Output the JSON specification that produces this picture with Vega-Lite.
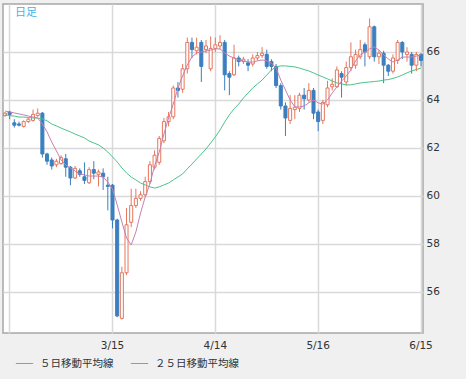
{
 "$schema": "https://vega.github.io/schema/vega-lite/v6.json",
 "width": 420, "height": 329,
 "autosize": {"type": "none"},
 "padding": {"left": 3, "top": 4, "right": 43, "bottom": 46},
 "background": "#f0f0f0",
 "config": {"view": {"fill": "white", "stroke": "#a6a6a6", "strokeWidth": 1.5}, "font": "DejaVu Sans"},
 "title": {"text": "日足", "anchor": "start", "frame": "group", "orient": "top", "offset": -14, "dx": 12, "fontSize": 11, "fontWeight": "normal", "color": "#3fb2ea", "font": "Noto Sans CJK JP"},
 "data": {"values": [
  {"d":"2/10","o":63.35,"h":63.5,"l":63.3,"c":63.45,"m5":63.54,"m25":63.38},
  {"d":"2/11","o":63.5,"h":63.55,"l":63.2,"c":63.4,"m5":63.5,"m25":63.35},
  {"d":"2/14","o":63.05,"h":63.2,"l":62.85,"c":62.95,"m5":63.46,"m25":63.33},
  {"d":"2/15","o":63.0,"h":63.1,"l":62.9,"c":62.95,"m5":63.42,"m25":63.29},
  {"d":"2/16","o":62.9,"h":63.15,"l":62.85,"c":63.1,"m5":63.38,"m25":63.29},
  {"d":"2/17","o":63.1,"h":63.25,"l":63.05,"c":63.2,"m5":63.33,"m25":63.27},
  {"d":"2/18","o":63.15,"h":63.6,"l":63.1,"c":63.4,"m5":63.29,"m25":63.25},
  {"d":"2/21","o":63.35,"h":63.65,"l":63.3,"c":63.45,"m5":63.25,"m25":63.25},
  {"d":"2/22","o":63.45,"h":63.5,"l":61.6,"c":61.75,"m5":63.0,"m25":63.21},
  {"d":"2/23","o":61.75,"h":61.8,"l":61.3,"c":61.45,"m5":62.67,"m25":63.13},
  {"d":"2/24","o":61.5,"h":61.6,"l":61.1,"c":61.25,"m5":62.25,"m25":63.0},
  {"d":"2/25","o":61.3,"h":61.55,"l":61.2,"c":61.45,"m5":61.88,"m25":62.92},
  {"d":"2/28","o":61.35,"h":61.7,"l":61.3,"c":61.6,"m5":61.5,"m25":62.83},
  {"d":"3/1","o":61.55,"h":61.75,"l":60.8,"c":61.2,"m5":61.29,"m25":62.75},
  {"d":"3/2","o":61.2,"h":61.25,"l":60.45,"c":60.75,"m5":61.17,"m25":62.67},
  {"d":"3/3","o":60.75,"h":61.25,"l":60.7,"c":61.15,"m5":61.04,"m25":62.58},
  {"d":"3/4","o":61.05,"h":61.15,"l":60.8,"c":60.9,"m5":60.92,"m25":62.5},
  {"d":"3/7","o":60.8,"h":61.4,"l":60.5,"c":60.65,"m5":60.88,"m25":62.42},
  {"d":"3/8","o":60.55,"h":61.2,"l":60.5,"c":61.1,"m5":60.83,"m25":62.29},
  {"d":"3/9","o":61.1,"h":61.45,"l":60.7,"c":60.95,"m5":60.83,"m25":62.21},
  {"d":"3/10","o":60.9,"h":61.1,"l":60.4,"c":61.0,"m5":60.83,"m25":62.13},
  {"d":"3/11","o":60.95,"h":61.15,"l":60.25,"c":60.8,"m5":60.79,"m25":62.0},
  {"d":"3/14","o":60.45,"h":60.8,"l":59.4,"c":60.4,"m5":60.58,"m25":61.83},
  {"d":"3/15","o":60.45,"h":60.5,"l":58.65,"c":59.0,"m5":60.29,"m25":61.63},
  {"d":"3/16","o":59.0,"h":59.05,"l":54.95,"c":55.0,"m5":59.63,"m25":61.42},
  {"d":"3/17","o":54.9,"h":57.05,"l":54.85,"c":56.8,"m5":58.92,"m25":61.17},
  {"d":"3/18","o":56.8,"h":59.5,"l":56.7,"c":58.8,"m5":58.25,"m25":60.96},
  {"d":"3/21","o":58.9,"h":60.3,"l":58.7,"c":59.6,"m5":57.96,"m25":60.79},
  {"d":"3/22","o":59.6,"h":60.3,"l":59.5,"c":59.9,"m5":58.5,"m25":60.67},
  {"d":"3/23","o":59.9,"h":60.2,"l":59.8,"c":60.05,"m5":59.29,"m25":60.54},
  {"d":"3/24","o":60.05,"h":60.8,"l":59.95,"c":60.6,"m5":59.96,"m25":60.46},
  {"d":"3/25","o":60.6,"h":61.45,"l":60.5,"c":61.3,"m5":60.5,"m25":60.38},
  {"d":"3/28","o":61.2,"h":61.9,"l":61.1,"c":61.7,"m5":61.25,"m25":60.33},
  {"d":"3/29","o":61.4,"h":62.5,"l":61.3,"c":62.4,"m5":61.83,"m25":60.38},
  {"d":"3/30","o":62.3,"h":63.25,"l":62.2,"c":63.1,"m5":62.58,"m25":60.46},
  {"d":"3/31","o":63.1,"h":63.5,"l":62.9,"c":63.3,"m5":63.25,"m25":60.54},
  {"d":"4/1","o":63.3,"h":64.6,"l":63.2,"c":64.5,"m5":63.83,"m25":60.67},
  {"d":"4/4","o":64.5,"h":64.75,"l":64.1,"c":64.4,"m5":64.5,"m25":60.79},
  {"d":"4/5","o":64.45,"h":65.5,"l":64.3,"c":65.3,"m5":65.0,"m25":60.92},
  {"d":"4/6","o":65.3,"h":66.6,"l":65.1,"c":66.4,"m5":65.46,"m25":61.13},
  {"d":"4/7","o":66.4,"h":66.6,"l":65.75,"c":66.1,"m5":65.79,"m25":61.33},
  {"d":"4/8","o":66.05,"h":66.6,"l":65.9,"c":66.2,"m5":65.96,"m25":61.54},
  {"d":"4/11","o":66.4,"h":66.5,"l":64.75,"c":65.4,"m5":66.0,"m25":61.75},
  {"d":"4/12","o":66.1,"h":66.5,"l":65.95,"c":66.25,"m5":66.04,"m25":61.96},
  {"d":"4/13","o":65.3,"h":66.65,"l":65.2,"c":66.15,"m5":66.08,"m25":62.21},
  {"d":"4/14","o":66.15,"h":66.6,"l":66.0,"c":66.3,"m5":66.13,"m25":62.46},
  {"d":"4/15","o":66.25,"h":66.7,"l":66.1,"c":66.4,"m5":66.13,"m25":62.75},
  {"d":"4/18","o":66.4,"h":66.5,"l":64.4,"c":65.05,"m5":65.96,"m25":63.08},
  {"d":"4/19","o":65.1,"h":65.2,"l":64.2,"c":64.95,"m5":65.83,"m25":63.38},
  {"d":"4/20","o":65.05,"h":66.3,"l":65.0,"c":65.75,"m5":65.75,"m25":63.63},
  {"d":"4/21","o":65.75,"h":65.85,"l":65.4,"c":65.6,"m5":65.67,"m25":63.83},
  {"d":"4/22","o":65.6,"h":65.8,"l":65.5,"c":65.7,"m5":65.63,"m25":64.08},
  {"d":"4/25","o":65.55,"h":65.7,"l":65.2,"c":65.45,"m5":65.58,"m25":64.29},
  {"d":"4/26","o":65.5,"h":65.9,"l":65.4,"c":65.75,"m5":65.58,"m25":64.5},
  {"d":"4/27","o":65.75,"h":66.0,"l":65.65,"c":65.85,"m5":65.63,"m25":64.67},
  {"d":"4/28","o":65.85,"h":66.2,"l":65.75,"c":65.95,"m5":65.67,"m25":64.83},
  {"d":"4/29","o":65.9,"h":66.1,"l":65.3,"c":65.4,"m5":65.63,"m25":65.04},
  {"d":"5/2","o":65.6,"h":65.7,"l":65.2,"c":65.4,"m5":65.54,"m25":65.25},
  {"d":"5/3","o":65.4,"h":65.5,"l":64.5,"c":64.6,"m5":65.33,"m25":65.38},
  {"d":"5/4","o":64.6,"h":64.7,"l":63.6,"c":63.75,"m5":64.83,"m25":65.42},
  {"d":"5/5","o":63.75,"h":63.9,"l":62.5,"c":63.25,"m5":64.42,"m25":65.42},
  {"d":"5/6","o":63.15,"h":64.2,"l":63.0,"c":63.65,"m5":64.0,"m25":65.4},
  {"d":"5/9","o":63.6,"h":64.2,"l":63.2,"c":63.7,"m5":63.71,"m25":65.38},
  {"d":"5/10","o":63.65,"h":64.3,"l":63.5,"c":64.2,"m5":63.71,"m25":65.33},
  {"d":"5/11","o":64.2,"h":64.5,"l":63.6,"c":64.05,"m5":63.75,"m25":65.27},
  {"d":"5/12","o":64.0,"h":64.7,"l":63.9,"c":64.4,"m5":63.88,"m25":65.21},
  {"d":"5/13","o":64.4,"h":64.5,"l":63.2,"c":63.45,"m5":64.0,"m25":65.13},
  {"d":"5/16","o":63.5,"h":63.6,"l":62.7,"c":63.1,"m5":63.88,"m25":65.04},
  {"d":"5/17","o":63.15,"h":64.0,"l":63.0,"c":63.9,"m5":63.83,"m25":64.96},
  {"d":"5/18","o":63.8,"h":64.8,"l":63.7,"c":64.5,"m5":64.0,"m25":64.88},
  {"d":"5/19","o":64.55,"h":64.9,"l":64.4,"c":64.65,"m5":64.29,"m25":64.79},
  {"d":"5/20","o":64.55,"h":65.4,"l":64.5,"c":65.25,"m5":64.54,"m25":64.71},
  {"d":"5/23","o":65.1,"h":65.2,"l":64.1,"c":64.95,"m5":64.79,"m25":64.67},
  {"d":"5/24","o":64.75,"h":65.6,"l":64.6,"c":65.35,"m5":65.0,"m25":64.63},
  {"d":"5/25","o":65.35,"h":66.4,"l":65.2,"c":65.8,"m5":65.25,"m25":64.63},
  {"d":"5/26","o":65.45,"h":66.1,"l":65.3,"c":65.9,"m5":65.63,"m25":64.67},
  {"d":"5/27","o":65.8,"h":66.5,"l":65.7,"c":66.1,"m5":65.88,"m25":64.71},
  {"d":"5/30","o":66.3,"h":66.4,"l":65.4,"c":66.0,"m5":66.0,"m25":64.73},
  {"d":"5/31","o":65.8,"h":67.4,"l":65.7,"c":67.05,"m5":66.13,"m25":64.75},
  {"d":"6/1","o":67.05,"h":67.1,"l":65.6,"c":65.8,"m5":66.21,"m25":64.77},
  {"d":"6/2","o":65.8,"h":66.1,"l":65.5,"c":65.95,"m5":66.08,"m25":64.79},
  {"d":"6/3","o":65.95,"h":66.05,"l":64.7,"c":65.45,"m5":65.88,"m25":64.83},
  {"d":"6/6","o":65.45,"h":65.5,"l":65.0,"c":65.2,"m5":65.71,"m25":64.85},
  {"d":"6/7","o":65.2,"h":65.9,"l":65.1,"c":65.75,"m5":65.58,"m25":64.9},
  {"d":"6/8","o":65.65,"h":66.5,"l":65.5,"c":66.4,"m5":65.67,"m25":64.96},
  {"d":"6/9","o":66.4,"h":66.45,"l":65.7,"c":66.0,"m5":65.79,"m25":65.04},
  {"d":"6/10","o":65.9,"h":66.2,"l":65.6,"c":66.0,"m5":65.79,"m25":65.13},
  {"d":"6/13","o":65.9,"h":66.0,"l":65.1,"c":65.45,"m5":65.79,"m25":65.21},
  {"d":"6/14","o":65.45,"h":66.0,"l":65.2,"c":65.9,"m5":65.83,"m25":65.27},
  {"d":"6/15","o":65.9,"h":65.95,"l":65.4,"c":65.65,"m5":65.88,"m25":65.33}
 ]},
 "encoding": {
  "x": {"field": "d", "type": "ordinal", "sort": null, "title": null,
   "scale": {"type": "band", "paddingInner": 0.35, "paddingOuter": 0.1},
   "axis": {"values": ["2/11","3/15","4/14","5/16","6/15"], "labelExpr": "datum.value == '2/11' ? '' : datum.value", "ticks": false, "domain": false, "grid": true, "gridColor": "#d9d9d9", "gridWidth": 1.5, "bandPosition": 0.5, "labelAngle": 0, "labelFontSize": 10.5, "labelColor": "#333333", "labelPadding": 7}}
 },
 "layer": [
  {"mark": {"type": "rule", "strokeWidth": 1},
   "encoding": {
    "y": {"field": "l", "type": "quantitative", "title": null, "scale": {"domain": [54.29, 68], "nice": false, "zero": false},
     "axis": {"orient": "right", "values": [56,58,60,62,64,66], "ticks": false, "domain": false, "gridColor": "#d9d9d9", "gridWidth": 1.5, "labelPadding": 3, "labelFontSize": 10.5, "labelColor": "#333333"}},
    "y2": {"field": "h"},
    "color": {"condition": {"test": "datum.c >= datum.o", "value": "#e5765c"}, "value": "#3b7fbf"}
   }},
  {"mark": {"type": "bar", "strokeWidth": 1},
   "encoding": {
    "y": {"field": "o", "type": "quantitative", "title": null},
    "y2": {"field": "c"},
    "fill": {"condition": {"test": "datum.c >= datum.o", "value": "#ffffff"}, "value": "#3b7fbf"},
    "stroke": {"condition": {"test": "datum.c >= datum.o", "value": "#e5765c"}, "value": "#3b7fbf"}
   }},
  {"mark": {"type": "line", "strokeWidth": 1},
   "encoding": {
    "y": {"field": "m25", "type": "quantitative", "title": null},
    "color": {"datum": "２５日移動平均線", "type": "nominal",
     "scale": {"domain": ["５日移動平均線", "２５日移動平均線"], "range": ["#c97fb0", "#4cc38c"]},
     "legend": {"orient": "none", "legendX": 12, "legendY": 350, "direction": "horizontal", "title": null, "symbolType": "stroke", "symbolStrokeWidth": 1, "symbolSize": 300, "labelFont": "Noto Sans CJK JP", "labelFontSize": 10.5, "labelColor": "#333333", "columnPadding": 14, "labelOffset": 6, "padding": 0}}
   }},
  {"mark": {"type": "line", "strokeWidth": 1},
   "encoding": {
    "y": {"field": "m5", "type": "quantitative", "title": null},
    "color": {"datum": "５日移動平均線", "type": "nominal"}
   }}
 ]
}
